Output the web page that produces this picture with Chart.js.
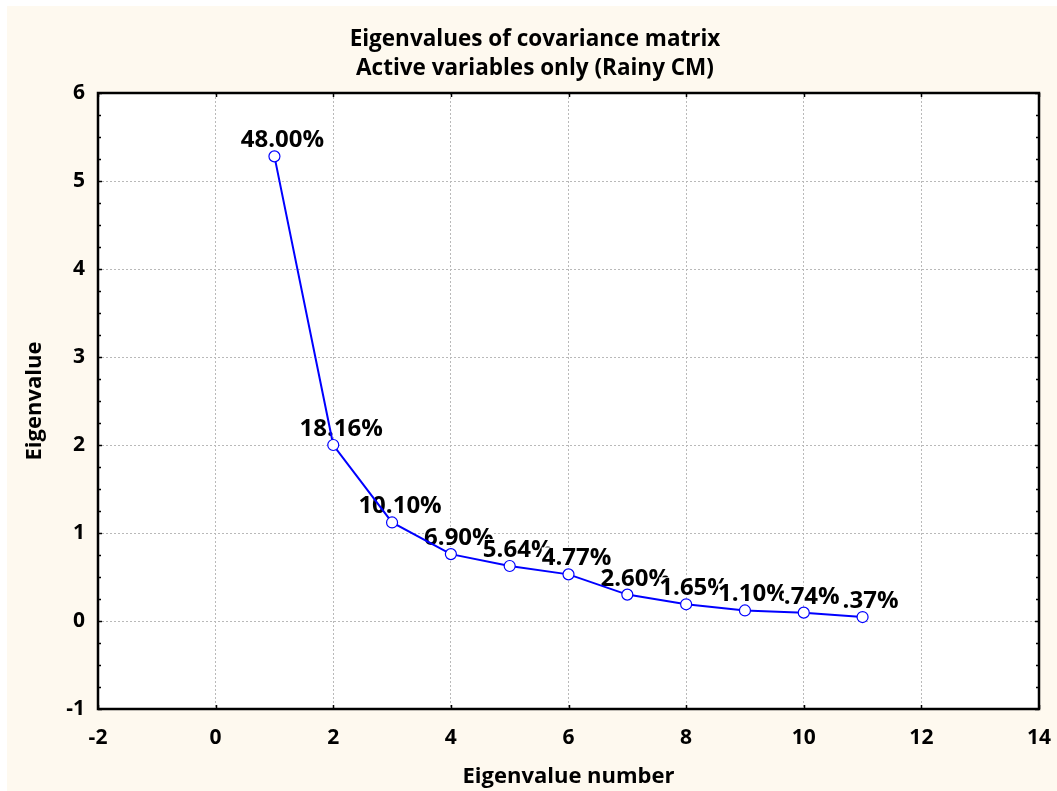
<!DOCTYPE html>
<html>
<head>
<meta charset="utf-8">
<title>Eigenvalues of covariance matrix</title>
<script src="https://cdn.jsdelivr.net/npm/chart.js@4.4.0/dist/chart.umd.min.js"></script>
<style>
  html, body { margin: 0; padding: 0; background: #fff; }
  canvas { display: block; }
</style>
</head>
<body>
<canvas id="scree" width="1057" height="791"></canvas>
<script>
// scree plot data
const eigenNumber = [1, 2, 3, 4, 5, 6, 7, 8, 9, 10, 11];
const eigenValue = [5.28, 2.0, 1.12, 0.76, 0.625, 0.53, 0.30, 0.19, 0.12, 0.095, 0.045];
const pctLabels = ["48.00%", "18.16%", "10.10%", "6.90%", "5.64%", "4.77%", "2.60%", "1.65%", "1.10%", ".74%", ".37%"];
const xTicks = [-2, 0, 2, 4, 6, 8, 10, 12, 14];
const yTicks = [-1, 0, 1, 2, 3, 4, 5, 6];
const titleLines = ["Eigenvalues of covariance matrix", "Active variables only (Rainy CM)"];

const FONT = "'Open Sans', 'DejaVu Sans', sans-serif";
Chart.defaults.font.family = FONT;
Chart.defaults.color = "#000";

// cream page + white plot box
const paper = {
  id: "paper",
  beforeDraw(chart) {
    const { ctx, chartArea: a } = chart;
    ctx.save();
    ctx.fillStyle = "#fff";
    ctx.fillRect(0, 0, chart.width, chart.height);
    ctx.fillStyle = "#fef9ef";
    ctx.fillRect(7, 6, chart.width - 7, chart.height - 6);
    ctx.fillStyle = "#fff";
    ctx.fillRect(a.left, a.top, a.right - a.left, a.bottom - a.top);
    ctx.restore();
  },
  // two-line heading, centred on the page rather than the plot
  afterDraw(chart) {
    const { ctx } = chart;
    ctx.save();
    ctx.font = "bold 22.5px " + FONT;
    ctx.fillStyle = "#000";
    ctx.textAlign = "center";
    ctx.textBaseline = "middle";
    titleLines.forEach((line, i) => ctx.fillText(line, 535, 39.6 + i * 29.25));
    ctx.restore();
  }
};

// percentage labels above each point, on opaque white boxes
const pctText = {
  id: "pctText",
  beforeDatasetsDraw(chart) {
    const { ctx } = chart;
    const meta = chart.getDatasetMeta(0);
    ctx.save();
    ctx.font = "bold 24px " + FONT;
    ctx.textAlign = "center";
    ctx.textBaseline = "alphabetic";
    meta.data.forEach((pt, i) => {
      const txt = pctLabels[i];
      const x = pt.x + 8;
      const y = pt.y - 9;
      const m = ctx.measureText(txt);
      ctx.fillStyle = "#fff";
      ctx.fillRect(x - m.width / 2, y - m.actualBoundingBoxAscent - 1, m.width, m.actualBoundingBoxAscent + 2);
      ctx.fillStyle = "#000";
      ctx.fillText(txt, x, y);
    });
    ctx.restore();
  }
};

// black frame with inward ticks, minor ticks on the value axis
const frame = {
  id: "frame",
  afterDatasetsDraw(chart) {
    const { ctx, chartArea: a, scales } = chart;
    const xs = scales.x, ys = scales.y;
    ctx.save();
    ctx.strokeStyle = "#000";
    ctx.lineWidth = 1.5;
    ctx.beginPath();
    xTicks.forEach(v => {
      const px = Math.round(xs.getPixelForValue(v)) + 0.5;
      ctx.moveTo(px, a.bottom); ctx.lineTo(px, a.bottom - 4);
      ctx.moveTo(px, a.top); ctx.lineTo(px, a.top + 4);
    });
    for (let v = yTicks[0]; v <= yTicks[yTicks.length - 1] + 1e-9; v += 0.25) {
      const py = Math.round(ys.getPixelForValue(v)) + 0.5;
      const len = Math.abs(v - Math.round(v)) < 1e-9 ? 4 : 3;
      ctx.moveTo(a.left, py); ctx.lineTo(a.left + len, py);
      ctx.moveTo(a.right, py); ctx.lineTo(a.right - len, py);
    }
    ctx.stroke();
    ctx.lineWidth = 2.5;
    ctx.strokeRect(a.left, a.top, a.right - a.left, a.bottom - a.top);
    ctx.restore();
  }
};

new Chart(document.getElementById("scree"), {
  type: "line",
  data: {
    datasets: [{
      data: eigenNumber.map((n, i) => ({ x: n, y: eigenValue[i] })),
      borderColor: "#0000ff",
      borderWidth: 2,
      pointRadius: 5.5,
      pointBorderWidth: 1.2,
      pointBackgroundColor: "#fff",
      pointBorderColor: "#0000ff",
      tension: 0,
      clip: false
    }]
  },
  options: {
    responsive: false,
    animation: false,
    events: [],
    layout: { padding: { left: 0, right: 18, top: 93, bottom: 0 } },
    plugins: {
      legend: { display: false },
      tooltip: { enabled: false },
      title: { display: false }
    },
    scales: {
      x: {
        type: "linear",
        min: -2,
        max: 14,
        afterBuildTicks: s => { s.ticks = xTicks.map(v => ({ value: v })); },
        afterFit: s => { s.height = 82; s.paddingLeft = 0; s.paddingRight = 0; },
        grid: { color: "#b9b9b9", lineWidth: 1, drawTicks: false },
        border: { display: false, dash: [2, 2] },
        ticks: { font: { size: 21, weight: "bold" }, padding: 16, maxRotation: 0 },
        title: {
          display: true,
          text: "Eigenvalue number",
          font: { size: 22, weight: "bold", lineHeight: 1.2 },
          padding: { top: 0, bottom: 1 }
        }
      },
      y: {
        type: "linear",
        min: -1,
        max: 6,
        afterBuildTicks: s => { s.ticks = yTicks.map(v => ({ value: v })); },
        afterFit: s => { s.width = 98; s.paddingTop = 0; s.paddingBottom = 0; },
        grid: { color: "#b9b9b9", lineWidth: 1, drawTicks: false },
        border: { display: false, dash: [2, 2] },
        ticks: { font: { size: 21, weight: "bold" }, padding: 13 },
        title: {
          display: true,
          text: "Eigenvalue",
          font: { size: 22, weight: "bold", lineHeight: 1.2 },
          padding: { top: 22, bottom: 0 }
        }
      }
    }
  },
  plugins: [paper, pctText, frame]
});
</script>
</body>
</html>
